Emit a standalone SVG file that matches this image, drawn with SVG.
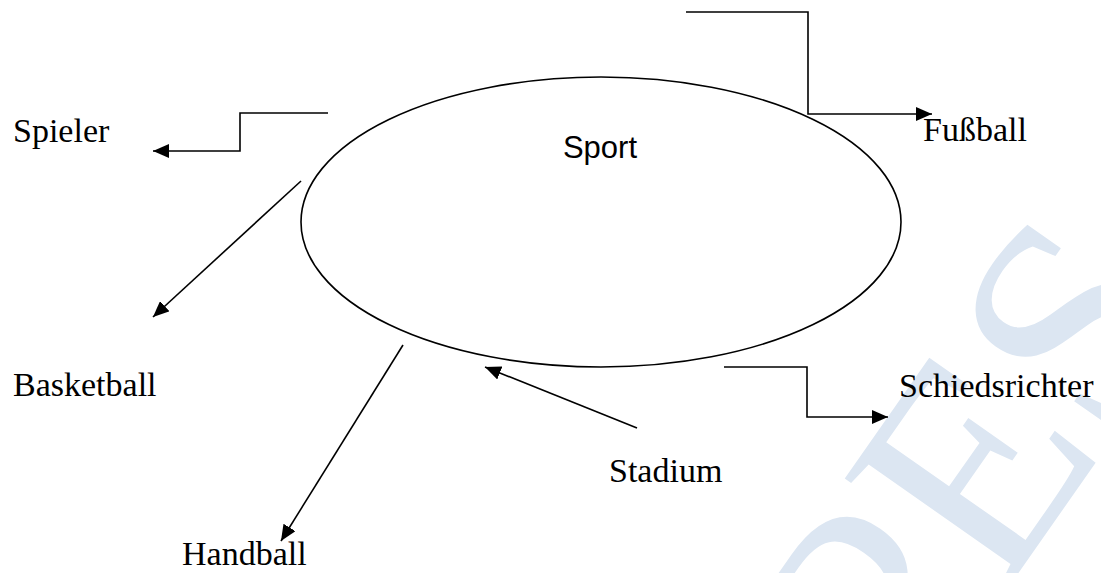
<svg xmlns="http://www.w3.org/2000/svg" width="1101" height="573" viewBox="0 0 1101 573">
<defs>
<style>
.lbl{font-family:"Liberation Serif","Times New Roman",serif;font-size:34px;fill:#000}
.wm{font-family:"Liberation Serif","Times New Roman",serif;font-size:300px;fill:#dce6f2}
</style>
<marker id="a" viewBox="0 0 16 14" refX="16" refY="7" markerWidth="16" markerHeight="14" markerUnits="userSpaceOnUse" orient="auto">
<path d="M0,0 L16,7 L0,14 Z" fill="#000"/>
</marker>
</defs>
<rect width="1101" height="573" fill="#fff"/>
<g id="watermark">
<text class="wm" transform="translate(905,735) rotate(-55)">PES</text>
</g>
<g id="sport">
<ellipse cx="601" cy="222" rx="300" ry="145" fill="none" stroke="#000" stroke-width="1.6"/>
<text x="600" y="158" text-anchor="middle" font-family="Liberation Sans, Arial, sans-serif" font-size="31">Sport</text>
</g>
<g id="spieler"><text class="lbl" x="13" y="142">Spieler</text></g>
<g id="fussball"><text class="lbl" x="923" y="141">Fußball</text></g>
<g id="basketball"><text class="lbl" x="13" y="396">Basketball</text></g>
<g id="handball"><text class="lbl" x="182" y="565">Handball</text></g>
<g id="stadium"><text class="lbl" x="609" y="482">Stadium</text></g>
<g id="schiedsrichter"><text class="lbl" x="899" y="397">Schiedsrichter</text></g>
<g id="connectors" fill="none" stroke="#000" stroke-width="1.6">
<polyline points="328,113 240,113 240,151 153,151" marker-end="url(#a)"/>
<polyline points="686,12 808,12 808,114 932,114" marker-end="url(#a)"/>
<line x1="301" y1="181" x2="153" y2="317" marker-end="url(#a)"/>
<line x1="403" y1="345" x2="281" y2="541" marker-end="url(#a)"/>
<line x1="637" y1="428" x2="485" y2="367" marker-end="url(#a)"/>
<polyline points="724,367 807,367 807,417 888,417" marker-end="url(#a)"/>
</g>
</svg>
